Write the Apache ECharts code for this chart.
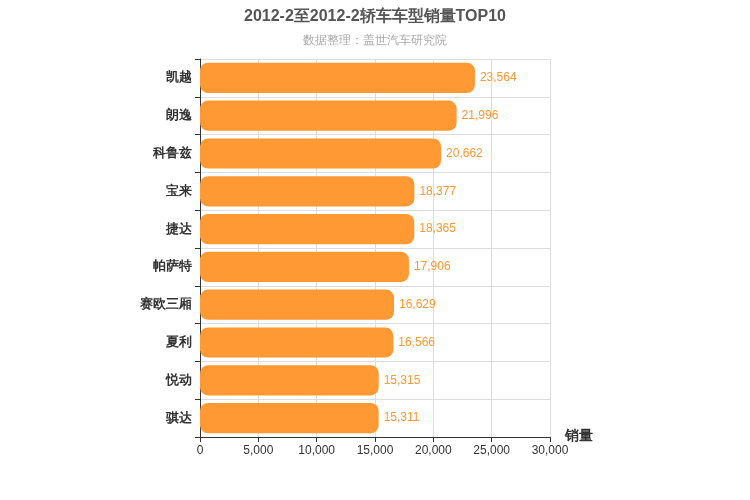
<!DOCTYPE html>
<html><head><meta charset="utf-8">
<script src="https://cdn.jsdelivr.net/npm/echarts@6/dist/echarts.min.js"></script>
<style>html,body{margin:0;padding:0}#c{width:750px;height:500px}</style>
</head><body><div id="c"></div>
<script>
const categories = ['凯越','朗逸','科鲁兹','宝来','捷达','帕萨特','赛欧三厢','夏利','悦动','骐达'];
const values = [23564,21996,20662,18377,18365,17906,16629,16566,15315,15311];
const chart = echarts.init(document.getElementById('c'));
chart.setOption({
  title:{text:'2012-2至2012-2轿车车型销量TOP10',subtext:'数据整理：盖世汽车研究院',left:'center',top:4,
    textStyle:{fontSize:16,fontWeight:'bold',color:'#555'},subtextStyle:{fontSize:12,color:'#aaa'},itemGap:10},
  grid:{left:200,right:200,top:59,bottom:63},
  xAxis:{type:'value',min:0,max:30000,interval:5000,name:'销量',nameLocation:'end',nameGap:15,
    nameTextStyle:{fontSize:14,fontWeight:'bold',color:'#333',verticalAlign:'top',padding:[-8,0,0,0]},
    axisLine:{show:true,lineStyle:{color:'#333'}},axisTick:{show:true},
    axisLabel:{color:'#333',fontSize:12,formatter:v=>v.toLocaleString('en-US')},
    splitLine:{lineStyle:{color:'#ddd'}}},
  yAxis:{type:'category',data:categories,inverse:true,
    axisLine:{lineStyle:{color:'#333'}},axisTick:{show:true},
    axisLabel:{color:'#333',fontSize:13,fontWeight:'bold'},
    splitLine:{show:true,lineStyle:{color:'#ddd'}}},
  series:[{type:'bar',data:values,barWidth:'80%',
    itemStyle:{color:'#ff9933',borderRadius:8},
    label:{show:true,position:'right',color:'#ff9933',fontSize:12,formatter:p=>p.value.toLocaleString('en-US')}}]
});
</script></body></html>
